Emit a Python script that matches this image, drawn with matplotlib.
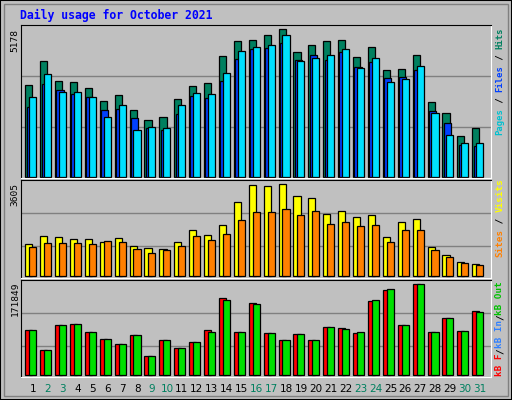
import matplotlib
matplotlib.use("Agg")
import matplotlib.pyplot as plt
from matplotlib.patches import Rectangle

days = list(range(1, 32))
day_labels = [str(d) for d in days]
weekend_days = [2, 3, 9, 10, 16, 17, 23, 24, 30, 31]

hits = [3210, 4053, 3350, 3315, 3104, 2648, 2858, 2331, 1980, 2085, 2718, 3175, 3280, 4229, 4756, 4791,
        4967, 5178, 4370, 4616, 4756, 4791, 4194, 4545, 3737, 3772, 4264, 2612, 2226, 1418, 1699]
files = [2437, 3245, 3034, 2894, 2788, 2331, 2366, 2050, 1699, 1628, 2191, 2823, 2753, 3350, 4124, 4475,
         4510, 4686, 4088, 4264, 4088, 4370, 3843, 4018, 3456, 3491, 3737, 2296, 1874, 1101, 1066]
pages = [2788, 3596, 2964, 2964, 2788, 2085, 2507, 1628, 1734, 1699, 2507, 2929, 2894, 3632, 4405, 4545,
         4616, 4967, 4053, 4159, 4264, 4475, 3807, 4159, 3315, 3421, 3878, 2226, 1453, 1171, 1171]
visits = [1254, 1567, 1528, 1450, 1450, 1332, 1489, 1175, 1097, 1058, 1332, 1802, 1606, 1998, 2899, 3565,
          3526, 3605, 3134, 3056, 2429, 2547, 2312, 2390, 1528, 2116, 2233, 1136, 823, 549, 470]
sites = [1136, 1293, 1293, 1293, 1254, 1371, 1332, 1058, 901, 1019, 1175, 1567, 1411, 1646, 2194, 2508,
         2508, 2625, 2390, 2547, 2037, 2116, 1959, 1998, 1332, 1802, 1802, 1019, 744, 509, 431]
kb_f = [84983, 47213, 94425, 96314, 81206, 67986, 58544, 75540, 35882, 66098, 50990, 62321, 84983, 145415,
        81206, 135972, 79317, 66098, 77429, 66098, 90648, 88760, 79317, 139749, 160523, 94425, 171849,
        81206, 107645, 83094, 120864]
kb_out = [84983, 47213, 95500, 96314, 82300, 69000, 58544, 75540, 35882, 67100, 50990, 63400, 81206, 141600,
          81206, 134100, 80300, 66098, 77429, 67100, 91700, 87700, 81206, 141600, 162400, 95500, 171849,
          82300, 107645, 83094, 119000]

BG = "#C0C0C0"
W, H = 512, 400
fig = plt.figure(figsize=(W / 100, H / 100), dpi=100, facecolor=BG)
fig.patches.append(Rectangle((0, 0), 1, 1, transform=fig.transFigure, fill=False,
                             edgecolor="black", lw=1.5))
fig.patches.append(Rectangle((4 / W, 4 / H), 1 - 8 / W, 1 - 8 / H, transform=fig.transFigure,
                             fill=False, edgecolor="#808080", lw=1))

MONO = "DejaVu Sans Mono"
fig.text(20 / W, 1 - 15 / H, "Daily usage for October 2021", color="#0000FF", fontsize=8.3,
         fontweight="bold", family=MONO, va="center", ha="left")

x0, x1 = 20.5, 491


def make_ax(top, bottom, ylo, yhi, grids):
    ax = fig.add_axes([x0 / W, 1 - bottom / H, (x1 - x0) / W, (bottom - top) / H])
    ax.set_facecolor(BG)
    ax.set_xlim(0.17, 31.75)
    ax.set_ylim(ylo, yhi)
    for g in grids:
        ax.axhline(g, color="#808080", lw=1, zorder=0)
    ax.set_xticks([])
    ax.set_yticks([])
    for s in ["left", "top"]:
        ax.spines[s].set_color("black")
    for s in ["right", "bottom"]:
        ax.spines[s].set_color("white")
    return ax


def bars(ax, vals, off, color, width=0.48):
    ax.bar([d + off for d in days], vals, width=width, align="edge", color=color,
           edgecolor="black", linewidth=0.9, zorder=2)


def right_label(top, span, pieces):
    n = sum(len(p[0]) for p in pieces)
    cw = span / n
    fs = cw / 0.602 / 1.389
    y = top + 2 + span
    for txt, col in pieces:
        fig.text(500 / W, 1 - y / H, txt, color=col, fontsize=fs, family=MONO, rotation=90,
                 ha="center", va="bottom", fontweight="bold")
        y -= len(txt) * cw


# Panel 1
ax1 = make_ax(25, 178, -46, 5329, [3525, 1735])
bars(ax1, hits, -0.51, "#00805F")
bars(ax1, files, -0.42, "#0040FF")
bars(ax1, pages, -0.25, "#00E0FF")
fig.text(15 / W, 1 - 40 / H, "5178", rotation=90, fontsize=6.8, family=MONO, ha="center", va="center")
right_label(26, 107, [("Pages", "#00C0D0"), (" / ", "black"), ("Files", "#0040FF"),
                      (" / ", "black"), ("Hits", "#00805F")])

# Panel 2
ax2 = make_ax(180, 278.3, -78, 3774, [2470, 1188])
bars(ax2, visits, -0.51, "#FFFF00")
bars(ax2, sites, -0.25, "#FF8000")
fig.text(15 / W, 1 - 194 / H, "3605", rotation=90, fontsize=6.8, family=MONO, ha="center", va="center")
right_label(177, 78, [("Sites", "#FF8000"), (" / ", "black"), ("Visits", "#FFFF00")])

# Panel 3
ax3 = make_ax(280.3, 377.3, -3776, 179401, [117056, 54752])
bars(ax3, kb_f, -0.51, "#FF0000")
bars(ax3, kb_out, -0.25, "#00E000")
fig.text(15 / W, 1 - 299 / H, "171849", rotation=90, fontsize=6.8, family=MONO, ha="center", va="center")
right_label(279, 95, [("kB F", "#FF0000"), ("/", "black"), ("kB In", "#3080FF"),
                      ("/", "black"), ("kB Out", "#00C000")])

for d, lab in zip(days, day_labels):
    col = "#00805F" if d in weekend_days else "black"
    ax3.text(d, -0.12, lab, transform=ax3.get_xaxis_transform(), ha="center", va="center",
             fontsize=7.5, color=col, family="DejaVu Sans")

fig.savefig("out.png", dpi=100, facecolor=BG)
